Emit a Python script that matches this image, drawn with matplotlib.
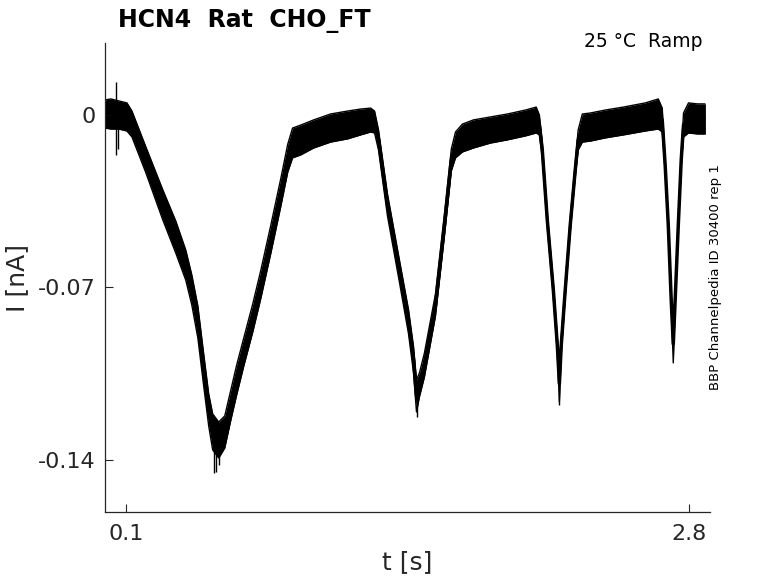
import numpy as np
import matplotlib
matplotlib.use('Agg')
import matplotlib.pyplot as plt

# time [s] and the upper / lower edge of the noisy current trace [nA]
t = [0.000, 0.028, 0.066, 0.105, 0.129, 0.196, 0.277, 0.339, 0.387, 0.416,
     0.445, 0.473, 0.497, 0.516, 0.545, 0.574, 0.603, 0.631, 0.665, 0.708,
     0.746, 0.794, 0.842, 0.876, 0.899, 0.938, 1.000, 1.081, 1.163, 1.225,
     1.273, 1.292, 1.311, 1.354, 1.412, 1.455, 1.479, 1.493, 1.507, 1.531,
     1.584, 1.627, 1.660, 1.680, 1.713, 1.766, 1.847, 1.929, 2.015, 2.067,
     2.082, 2.096, 2.120, 2.149, 2.168, 2.178, 2.187, 2.206, 2.230, 2.254,
     2.268, 2.288, 2.326, 2.398, 2.484, 2.590, 2.652, 2.671, 2.685, 2.700,
     2.714, 2.724, 2.733, 2.748, 2.762, 2.773, 2.797, 2.840, 2.878]
upper = [0.0061, 0.0065, 0.0057, 0.0049, 0.0016, -0.0130, -0.0304, -0.0430, -0.0548, -0.0649,
         -0.0775, -0.0970, -0.1132, -0.1213, -0.1246, -0.1221, -0.1116, -0.1015, -0.0905, -0.0767,
         -0.0633, -0.0450, -0.0260, -0.0118, -0.0053, -0.0041, -0.0020, 0.0004, 0.0016, 0.0024,
         0.0028, 0.0016, -0.0061, -0.0321, -0.0592, -0.0791, -0.0941, -0.1075, -0.1047, -0.0966,
         -0.0726, -0.0402, -0.0138, -0.0069, -0.0037, -0.0020, -0.0008, 0.0004, 0.0020, 0.0032,
         0.0000, -0.0110, -0.0398, -0.0682, -0.0901, -0.1015, -0.0901, -0.0682, -0.0418, -0.0195,
         -0.0061, 0.0004, 0.0008, 0.0020, 0.0032, 0.0049, 0.0065, 0.0028, -0.0179, -0.0426,
         -0.0726, -0.0852, -0.0726, -0.0426, -0.0158, 0.0008, 0.0049, 0.0045, 0.0045]
lower = [-0.0053, -0.0057, -0.0057, -0.0065, -0.0089, -0.0235, -0.0426, -0.0560, -0.0670, -0.0771,
         -0.0905, -0.1100, -0.1262, -0.1359, -0.1392, -0.1351, -0.1238, -0.1136, -0.1019, -0.0881,
         -0.0747, -0.0564, -0.0373, -0.0231, -0.0174, -0.0162, -0.0134, -0.0110, -0.0097, -0.0081,
         -0.0069, -0.0073, -0.0142, -0.0410, -0.0682, -0.0889, -0.1047, -0.1205, -0.1144, -0.1063,
         -0.0816, -0.0491, -0.0227, -0.0174, -0.0150, -0.0134, -0.0114, -0.0101, -0.0085, -0.0073,
         -0.0081, -0.0174, -0.0455, -0.0739, -0.0966, -0.1165, -0.0966, -0.0739, -0.0475, -0.0252,
         -0.0142, -0.0110, -0.0106, -0.0093, -0.0081, -0.0065, -0.0057, -0.0069, -0.0227, -0.0467,
         -0.0775, -0.1006, -0.0775, -0.0467, -0.0207, -0.0089, -0.0073, -0.0077, -0.0077]

# single noise spikes that stick out of the band
spike_t = [0.052, 0.062, 0.520, 0.532, 0.545, 1.495, 2.177]
spike_hi = [0.0134, 0.0040, -0.1300, -0.1300, -0.1300, -0.1100, -0.1000]
spike_lo = [-0.0162, -0.0140, -0.1453, -0.1450, -0.1420, -0.1225, -0.1175]

xticks = [0.1, 2.8]
xticklabels = ['0.1', '2.8']
yticks = [-0.14, -0.07, 0]
yticklabels = ['-0.14', '-0.07', '0']

t = np.array(t)
upper = np.array(upper)
lower = np.array(lower)

fig = plt.figure(figsize=(7.78, 5.83), dpi=100)
ax = fig.add_axes([0.135, 0.1218, 0.7776, 0.8044])

ax.fill_between(t, lower, upper, color='k', lw=0)
ax.plot(t, upper, 'k', lw=1.0, solid_capstyle='butt')
ax.plot(t, lower, 'k', lw=1.0, solid_capstyle='butt')
ax.plot(t, (upper + lower) / 2, 'k', lw=2.5, solid_capstyle='butt')
ax.vlines(spike_t, spike_lo, spike_hi, colors='k', lw=1.0)

ax.set_xlim([0, 2.9])
ax.set_ylim([-0.1611, 0.0292])
ax.set_xticks(xticks)
ax.set_xticklabels(xticklabels)
ax.set_yticks(yticks)
ax.set_yticklabels(yticklabels)

gray = '#262626'
for side in ['top', 'right']:
    ax.spines[side].set_visible(False)
for side in ['left', 'bottom']:
    ax.spines[side].set_color(gray)
    ax.spines[side].set_linewidth(0.9)
ax.tick_params(direction='in', length=6, width=0.8, colors=gray, labelsize=16)
ax.tick_params(axis='x', pad=9)
ax.tick_params(axis='y', pad=7)

ax.set_xlabel('t [s]', fontsize=18, color=gray, labelpad=4)
ax.set_ylabel('I [nA]', fontsize=18, color=gray, labelpad=6)

fig.text(118 / 778, 1 - 27 / 583, 'HCN4  Rat  CHO_FT', fontsize=17,
         fontweight='bold', ha='left', va='baseline')
fig.text(703 / 778, 1 - 47 / 583, '25 °C  Ramp', fontsize=13.5,
         ha='right', va='baseline')
fig.text(716 / 778, 1 - 277.5 / 583, 'BBP Channelpedia ID 30400 rep 1',
         fontsize=9.5, rotation=90, ha='center', va='center')

fig.savefig('out.png', dpi=100)
